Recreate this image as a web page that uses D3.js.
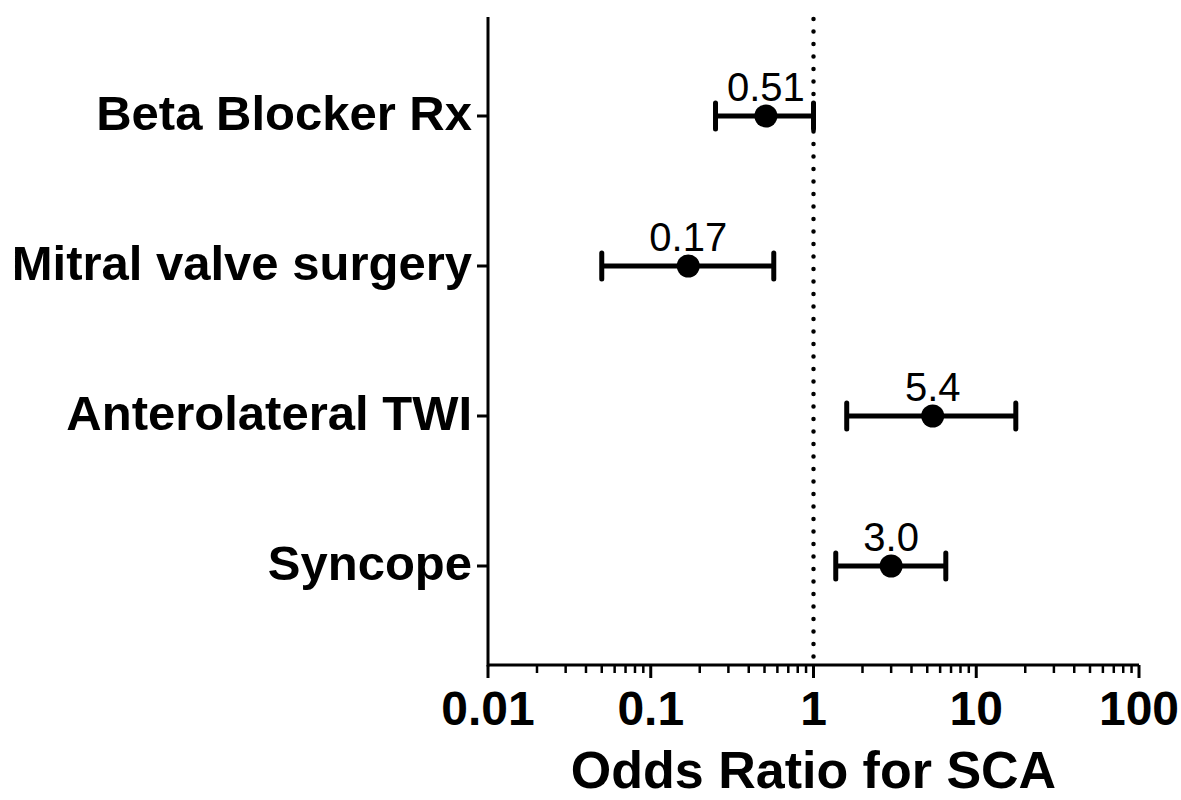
<!DOCTYPE html>
<html>
<head>
<meta charset="utf-8">
<script src="https://cdn.jsdelivr.net/npm/d3@7"></script>
<style>
  html, body { margin: 0; padding: 0; background: #fff; }
  svg { display: block; font-family: "Liberation Sans", Arial, Helvetica, sans-serif; }
</style>
</head>
<body>
<svg id="chart" width="1181" height="800"></svg>
<script>
const categories = ["Beta Blocker Rx", "Mitral valve surgery", "Anterolateral TWI", "Syncope"];
const oddsRatio = [0.51, 0.17, 5.4, 3.0];
const ciLower = [0.25, 0.05, 1.6, 1.37];
const ciUpper = [1.0, 0.57, 17.5, 6.5];
const valueLabels = ["0.51", "0.17", "5.4", "3.0"];
const xTicks = [0.01, 0.1, 1, 10, 100];
const xTickLabels = ["0.01", "0.1", "1", "10", "100"];
const refValue = 1;

(function () {
const svg = d3.select("#chart");
const pLeft = 488, pRight = 1139, pTop = 17, pBottom = 665;

const x = d3.scaleLog().domain([0.01, 100]).range([pLeft, pRight]);
const y = d3.scalePoint().domain(categories).range([pTop, pBottom]).padding(0.66);

const data = categories.map((c, i) => ({
  cat: c, or: oddsRatio[i], lo: ciLower[i], hi: ciUpper[i], label: valueLabels[i]
}));

// Reference dotted line
svg.append("line")
  .attr("x1", x(refValue)).attr("x2", x(refValue))
  .attr("y1", pTop + 2).attr("y2", pBottom)
  .attr("stroke", "#000").attr("stroke-width", 4.5)
  .attr("stroke-linecap", "round")
  .attr("stroke-dasharray", "0 12.5");

// Minor ticks
const minor = [];
for (let e = -2; e < 2; e++) {
  for (let m = 2; m <= 9; m++) minor.push(m * Math.pow(10, e));
}
svg.append("g").selectAll("line").data(minor).join("line")
  .attr("x1", d => x(d)).attr("x2", d => x(d))
  .attr("y1", pBottom).attr("y2", pBottom + 8)
  .attr("stroke", "#000").attr("stroke-width", 2.5);

// Major ticks
svg.append("g").selectAll("line").data(xTicks).join("line")
  .attr("x1", d => x(d)).attr("x2", d => x(d))
  .attr("y1", pBottom).attr("y2", pBottom + 13)
  .attr("stroke", "#000").attr("stroke-width", 3);

// Tick labels
svg.append("g").selectAll("text").data(xTicks).join("text")
  .attr("x", d => x(d)).attr("y", 725)
  .attr("text-anchor", "middle")
  .attr("font-weight", "bold").attr("font-size", 48)
  .text((d, i) => xTickLabels[i]);

// X axis line
svg.append("line")
  .attr("x1", pLeft).attr("x2", pRight)
  .attr("y1", pBottom).attr("y2", pBottom)
  .attr("stroke", "#000").attr("stroke-width", 3);

// Y axis line
svg.append("line")
  .attr("x1", pLeft).attr("x2", pLeft)
  .attr("y1", pTop).attr("y2", pBottom + 1.5)
  .attr("stroke", "#000").attr("stroke-width", 3);

// Y ticks and labels
svg.append("g").selectAll("line").data(categories).join("line")
  .attr("x1", pLeft - 11).attr("x2", pLeft)
  .attr("y1", d => y(d)).attr("y2", d => y(d))
  .attr("stroke", "#000").attr("stroke-width", 3);

svg.append("g").selectAll("text").data(categories).join("text")
  .attr("x", pLeft - 16).attr("y", d => y(d) + 14)
  .attr("text-anchor", "end")
  .attr("font-weight", "bold").attr("font-size", 49)
  .text(d => d);

// Axis title
svg.append("text")
  .attr("x", (pLeft + pRight) / 2).attr("y", 788)
  .attr("text-anchor", "middle")
  .attr("font-weight", "bold").attr("font-size", 52)
  .text("Odds Ratio for SCA");

// Error bars
const g = svg.append("g");
g.selectAll(".ci").data(data).join("line")
  .attr("x1", d => x(d.lo)).attr("x2", d => x(d.hi))
  .attr("y1", d => y(d.cat)).attr("y2", d => y(d.cat))
  .attr("stroke", "#000").attr("stroke-width", 5);
g.selectAll(".capl").data(data).join("line")
  .attr("x1", d => x(d.lo)).attr("x2", d => x(d.lo))
  .attr("y1", d => y(d.cat) - 13).attr("y2", d => y(d.cat) + 13)
  .attr("stroke", "#000").attr("stroke-width", 5).attr("stroke-linecap", "round");
g.selectAll(".capr").data(data).join("line")
  .attr("x1", d => x(d.hi)).attr("x2", d => x(d.hi))
  .attr("y1", d => y(d.cat) - 13).attr("y2", d => y(d.cat) + 13)
  .attr("stroke", "#000").attr("stroke-width", 5).attr("stroke-linecap", "round");
g.selectAll("circle").data(data).join("circle")
  .attr("cx", d => x(d.or)).attr("cy", d => y(d.cat)).attr("r", 11.5)
  .attr("fill", "#000");
g.selectAll(".val").data(data).join("text")
  .attr("x", d => x(d.or)).attr("y", d => y(d.cat) - 15)
  .attr("text-anchor", "middle")
  .attr("font-size", 40)
  .text(d => d.label);
})();
</script>
</body>
</html>
